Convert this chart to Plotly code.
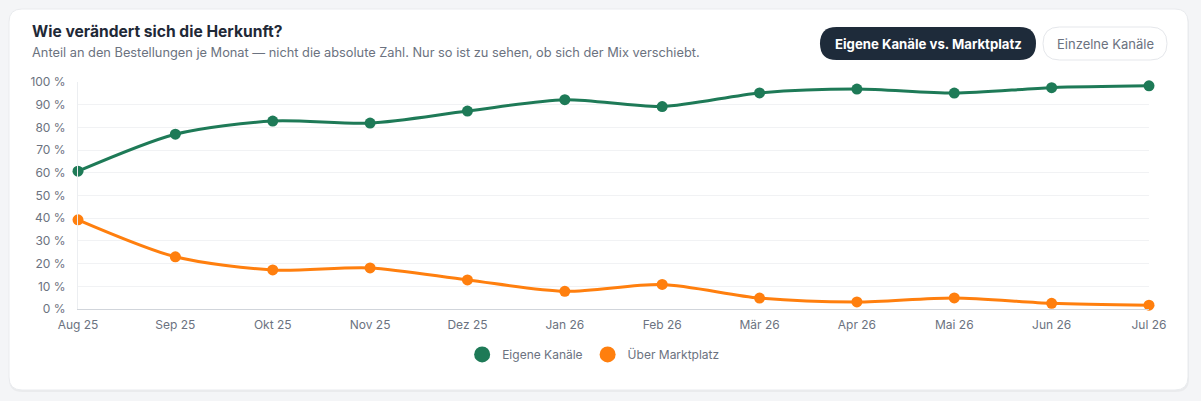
import plotly.graph_objects as go

# Daten (Anteil an Bestellungen je Monat, in %)
monate = ["Aug 25", "Sep 25", "Okt 25", "Nov 25", "Dez 25", "Jan 26",
          "Feb 26", "Mär 26", "Apr 26", "Mai 26", "Jun 26", "Jul 26"]
eigene_kanaele = [60.7, 77.0, 82.8, 81.9, 87.2, 92.2, 89.2, 95.2, 96.9, 95.1, 97.5, 98.3]
marktplatz = [39.3, 23.0, 17.2, 18.1, 12.8, 7.8, 10.8, 4.8, 3.1, 4.9, 2.5, 1.7]

GRUEN = "#1e7a57"
ORANGE = "#ff7f0e"
GRAU = "#6b7280"
FONT = "Inter"

W, H = 1201, 401
# Plotfläche in Pixeln
PL, PR, PT, PB = 78, 1149, 82, 309


def px(x):
    return (x - PL) / (PR - PL)


def py(y):
    return (PB - y) / (PB - PT)


def rounded_rect(x0, y0, x1, y1, r):
    # Pfad in Paper-Koordinaten, Ecken über Pixel berechnet
    pts = [
        ("M", [(x0 + r, y0)]),
        ("L", [(x1 - r, y0)]),
        ("Q", [(x1, y0), (x1, y0 + r)]),
        ("L", [(x1, y1 - r)]),
        ("Q", [(x1, y1), (x1 - r, y1)]),
        ("L", [(x0 + r, y1)]),
        ("Q", [(x0, y1), (x0, y1 - r)]),
        ("L", [(x0, y0 + r)]),
        ("Q", [(x0, y0), (x0 + r, y0)]),
    ]
    path = ""
    for cmd, coords in pts:
        path += cmd + " " + " ".join(f"{px(a):.5f},{py(b):.5f}" for a, b in coords) + " "
    return path + "Z"


fig = go.Figure()

fig.add_trace(go.Scatter(
    x=monate, y=eigene_kanaele, name="Eigene Kanäle",
    mode="lines+markers", line=dict(color=GRUEN, width=3, shape="spline", smoothing=0.8),
    marker=dict(size=11, color=GRUEN), cliponaxis=False, showlegend=False,
))
fig.add_trace(go.Scatter(
    x=monate, y=marktplatz, name="Über Marktplatz",
    mode="lines+markers", line=dict(color=ORANGE, width=3, shape="spline", smoothing=0.8),
    marker=dict(size=11, color=ORANGE), cliponaxis=False, showlegend=False,
))
# Legendeneinträge nur mit Punkt
fig.add_trace(go.Scatter(x=[None], y=[None], name="Eigene Kanäle", mode="markers",
                         marker=dict(size=16, color=GRUEN)))
fig.add_trace(go.Scatter(x=[None], y=[None], name="Über Marktplatz", mode="markers",
                         marker=dict(size=16, color=ORANGE)))

shapes = [
    # Karte mit Schatten
    dict(type="path", xref="paper", yref="paper", layer="below",
         path=rounded_rect(9, 11, 1189, 392, 13), fillcolor="rgba(0,0,0,0.04)", line=dict(width=0)),
    dict(type="path", xref="paper", yref="paper", layer="below",
         path=rounded_rect(9, 9, 1188, 390, 13), fillcolor="white",
         line=dict(color="#e9ebee", width=1)),
    # Buttons
    dict(type="path", xref="paper", yref="paper",
         path=rounded_rect(820, 27, 1036, 60, 16.5), fillcolor="#1e2b3a", line=dict(width=0)),
    dict(type="path", xref="paper", yref="paper",
         path=rounded_rect(1043, 27, 1167, 60, 16.5), fillcolor="white",
         line=dict(color="#e5e7eb", width=1)),
]

annotations = [
    dict(text="<b>Wie verändert sich die Herkunft?</b>", x=px(30), y=py(31),
         xref="paper", yref="paper", xanchor="left", yanchor="middle", showarrow=False,
         font=dict(family=FONT, size=15.6, color="#1f2937")),
    dict(text="Anteil an den Bestellungen je Monat — nicht die absolute Zahl. "
              "Nur so ist zu sehen, ob sich der Mix verschiebt.",
         x=px(30), y=py(53), xref="paper", yref="paper", xanchor="left", yanchor="middle",
         showarrow=False, font=dict(family=FONT, size=12.8, color=GRAU)),
    dict(text="<b>Eigene Kanäle vs. Marktplatz</b>", x=px(928), y=py(44),
         xref="paper", yref="paper", xanchor="center", yanchor="middle", showarrow=False,
         font=dict(family=FONT, size=13.2, color="white")),
    dict(text="Einzelne Kanäle", x=px(1105), y=py(44),
         xref="paper", yref="paper", xanchor="center", yanchor="middle", showarrow=False,
         font=dict(family=FONT, size=13, color=GRAU)),
]

fig.update_layout(
    width=W, height=H,
    margin=dict(l=PL, r=W - PR, t=PT, b=H - PB, pad=0),
    paper_bgcolor="#f4f5f7", plot_bgcolor="rgba(0,0,0,0)",
    font=dict(family=FONT, size=12, color=GRAU),
    shapes=shapes, annotations=annotations,
    legend=dict(orientation="h", x=0.481, y=-0.2, xanchor="center", yanchor="middle",
                font=dict(family=FONT, size=12, color=GRAU), bgcolor="rgba(0,0,0,0)",
                itemclick=False, tracegroupgap=0),
    hovermode="x unified",
)

fig.update_xaxes(
    type="category", range=[0, len(monate) - 1], showgrid=False,
    showline=True, linecolor="#d1d5db", linewidth=1, ticks="", ticklabelstandoff=5,
    tickfont=dict(family=FONT, size=12, color=GRAU), zeroline=False,
)
fig.update_yaxes(
    range=[0, 100], dtick=10, ticksuffix=" %", showgrid=True, gridcolor="#f1f2f4",
    showline=True, linecolor="#eceef1", linewidth=1, ticks="", ticklabelstandoff=9,
    tickfont=dict(family=FONT, size=12, color=GRAU), zeroline=False,
)

# Seitenrand des Browsers entfernen, damit die Karte bündig sitzt
fig.write_html("out.html", config={"displayModeBar": False},
               post_script="document.body.style.margin='0';document.body.style.background='#f4f5f7';")
